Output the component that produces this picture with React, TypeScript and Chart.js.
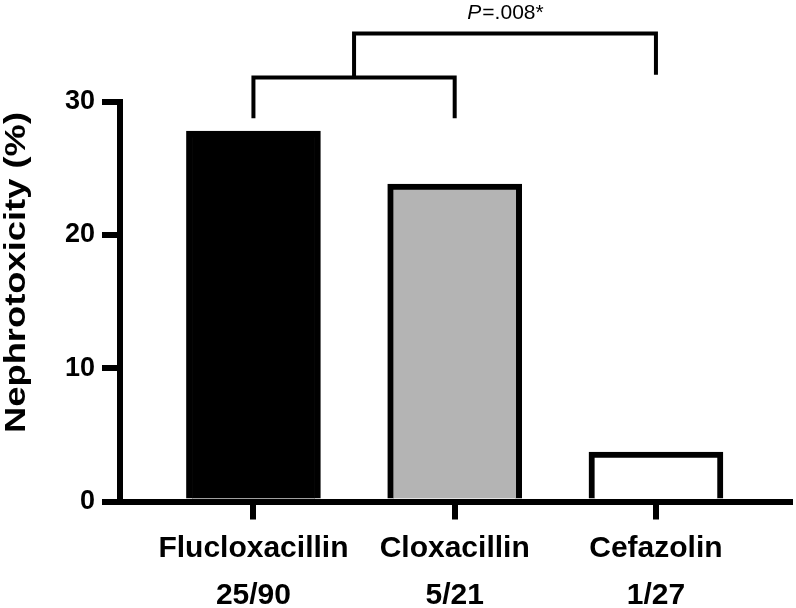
import React, { useEffect, useRef } from "react";
import { Chart, registerables } from "chart.js";

Chart.register(...registerables);

// ---- Data ----
const categories = ["Flucloxacillin", "Cloxacillin", "Cefazolin"];
const counts = ["25/90", "5/21", "1/27"];
const nephrotoxicity = [27.78, 23.81, 3.7];
const barColors = ["#000000", "#b4b4b4", "#ffffff"];
const yTicks = [0, 10, 20, 30];
const yTitle = "Nephrotoxicity (%)";
const pItalic = "P";
const pRest = "=.008*";

// Significance brackets in data units (x = category index, y = percent)
const lowerBracket = { from: 0, to: 1, bar: 31.8, legFrom: 28.75, legTo: 28.75 };
const upperBracket = { from: 0.5, to: 2, bar: 35.1, legFrom: 31.8, legTo: 32.0 };
const pLabelY = 36.2;

const X_MIN = -0.663;
const X_MAX = 2.681;
const FONT = '"Liberation Sans", Arial, Helvetica, sans-serif';

const annotationPlugin = {
  id: "annotations",
  afterDraw(chart: any) {
    const { ctx } = chart;
    const x = chart.scales.x;
    const y = chart.scales.y;
    ctx.save();
    ctx.strokeStyle = "#000";
    ctx.lineWidth = 4;
    ctx.lineCap = "butt";
    ctx.lineJoin = "miter";
    for (const b of [lowerBracket, upperBracket]) {
      ctx.beginPath();
      ctx.moveTo(x.getPixelForValue(b.from), y.getPixelForValue(b.legFrom));
      ctx.lineTo(x.getPixelForValue(b.from), y.getPixelForValue(b.bar));
      ctx.lineTo(x.getPixelForValue(b.to), y.getPixelForValue(b.bar));
      ctx.lineTo(x.getPixelForValue(b.to), y.getPixelForValue(b.legTo));
      ctx.stroke();
    }
    // p-value label
    const cx = x.getPixelForValue((upperBracket.from + upperBracket.to) / 2);
    const py = y.getPixelForValue(pLabelY);
    ctx.fillStyle = "#000";
    ctx.textBaseline = "alphabetic";
    ctx.textAlign = "left";
    ctx.font = `italic 21px ${FONT}`;
    const w1 = ctx.measureText(pItalic).width;
    ctx.font = `21px ${FONT}`;
    const w2 = ctx.measureText(pRest).width;
    const sx = cx - (w1 + w2) / 2;
    ctx.font = `italic 21px ${FONT}`;
    ctx.fillText(pItalic, sx, py);
    ctx.font = `21px ${FONT}`;
    ctx.fillText(pRest, sx + w1 + 1, py);

    // y-axis title
    ctx.font = `bold 30px ${FONT}`;
    const tw = ctx.measureText(yTitle).width;
    const targetLen = 321;
    ctx.translate(25, 272.5);
    ctx.rotate(-Math.PI / 2);
    ctx.scale(targetLen / tw, 1);
    ctx.textAlign = "center";
    ctx.fillText(yTitle, 0, 0);
    ctx.restore();
  },
};

export default function App() {
  const canvasRef = useRef<HTMLCanvasElement | null>(null);

  useEffect(() => {
    if (!canvasRef.current) return;
    const chart = new Chart(canvasRef.current, {
      type: "bar",
      data: {
        datasets: [
          {
            data: nephrotoxicity.map((v, i) => ({ x: i, y: v })),
            backgroundColor: barColors,
            borderColor: "#000000",
            borderWidth: 6,
            borderSkipped: "start",
            barThickness: 134,
          } as any,
        ],
      },
      options: {
        responsive: false,
        animation: false,
        devicePixelRatio: 1,
        layout: { padding: { left: 0, right: 3, top: 101.5, bottom: 0 } },
        plugins: {
          legend: { display: false },
          tooltip: { enabled: false },
          title: { display: false },
        },
        scales: {
          x: {
            type: "linear",
            offset: false,
            min: X_MIN,
            max: X_MAX,
            afterBuildTicks: (s: any) => {
              s.ticks = categories.map((_, i) => ({ value: i }));
            },
            afterFit: (s: any) => {
              s.height = 106.5;
            },
            border: { display: true, color: "#000", width: 6 },
            grid: {
              display: true,
              offset: false,
              drawOnChartArea: false,
              drawTicks: true,
              tickLength: 18,
              tickWidth: 6,
              tickColor: "#000",
              lineWidth: 0,
            },
            ticks: {
              autoSkip: false,
              maxRotation: 0,
              minRotation: 0,
              padding: 6,
              color: "#000",
              font: { family: FONT, size: 30, weight: "bold", lineHeight: 47 / 30 },
              callback: (_v: any, i: number) => [categories[i], counts[i]],
            },
          },
          y: {
            type: "linear",
            min: 0,
            max: 30,
            afterBuildTicks: (s: any) => {
              s.ticks = yTicks.map((v) => ({ value: v }));
            },
            afterFit: (s: any) => {
              s.width = 120;
            },
            border: { display: true, color: "#000", width: 6 },
            grid: {
              display: true,
              drawOnChartArea: false,
              drawTicks: true,
              tickLength: 18,
              tickWidth: 6,
              tickColor: "#000",
              lineWidth: 6,
              color: "#000",
            },
            ticks: {
              padding: 7,
              color: "#000",
              font: { family: FONT, size: 27, weight: "bold" },
            },
          },
        },
      } as any,
      plugins: [annotationPlugin],
    });
    return () => chart.destroy();
  }, []);

  return (
    <div style={{ position: "absolute", left: 0, top: 0, width: 796, height: 608, background: "#fff" }}>
      <canvas ref={canvasRef} width={796} height={608} style={{ display: "block" }} />
    </div>
  );
}
